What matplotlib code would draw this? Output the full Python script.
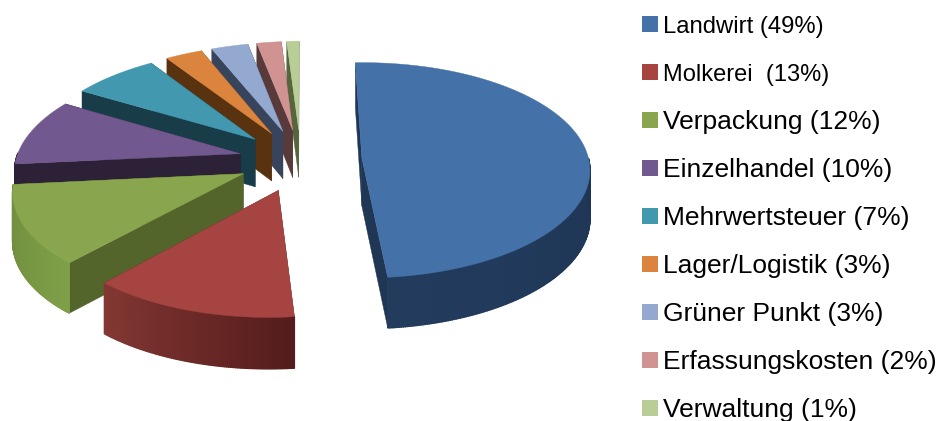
import numpy as np
from matplotlib import pyplot as plt
from matplotlib.colors import to_rgb

labels = ['Landwirt (49%)', 'Molkerei  (13%)', 'Verpackung (12%)', 'Einzelhandel (10%)',
          'Mehrwertsteuer (7%)', 'Lager/Logistik (3%)', 'Grüner Punkt (3%)',
          'Erfassungskosten (2%)', 'Verwaltung (1%)']
shares = [49, 13, 12, 10, 7, 3, 3, 2, 1]
colors = ['#4571a9', '#a54441', '#89a54d', '#71588f', '#4198af', '#db843d', '#93a9cf', '#d19392', '#b9cd96']
cut_colors = ['#1f3654', '#5a1f1e', '#53652b', '#2c2137', '#183c48', '#59330f', '#37445c', '#583a3a', '#55663c']
side_start = ['#233c5e', '#843833', '#6d8a3c', '#2c2137', '#183c48', '#59330f', '#37445c', '#583a3a', '#55663c']
side_end = ['#1a2e4a', '#541c1c', '#7f9f48', '#2c2137', '#183c48', '#59330f', '#37445c', '#583a3a', '#55663c']
text_sizes = [17.2, 17.0, 19, 19, 19, 19, 19, 19, 19]
explodes = [61, 66, 63, 63, 66, 66, 66, 66, 66]
radii = [227, 224, 224, 224, 224, 224, 224, 224, 224]

cx, cy = 301, 160
squash = 0.47
persp = 0.0005
shear = 0.03
start_angle = 92


def project(x, y, z=0):
    w = 1 + persp * y
    depth = z * (48 - 0.012 * y)
    return cx + x / w + shear * y, cy - squash * y / w + depth


def mix(a, b, t):
    a, b = np.array(to_rgb(a)), np.array(to_rgb(b))
    return tuple(a + (b - a) * t)


def draw_slice(ax, i, a0, a1):
    mid = np.radians((a0 + a1) / 2)
    ax0, ay0 = explodes[i] * np.cos(mid), explodes[i] * np.sin(mid)
    t = np.radians(np.linspace(a1, a0, max(int(a0 - a1) * 2, 6)))
    xs = ax0 + radii[i] * np.cos(t)
    ys = ay0 + radii[i] * np.sin(t)

    # cut faces, the one further back first
    cuts = [(xs[0], ys[0]), (xs[-1], ys[-1])]
    cuts.sort(key=lambda p: -p[1])
    for px, py in cuts:
        qx, qy = zip(project(ax0, ay0), project(px, py), project(px, py, 1), project(ax0, ay0, 1))
        ax.fill(qx, qy, color=cut_colors[i], lw=0.3)

    # outer rim in small strips, only the part facing the viewer
    for k in range(len(t) - 1):
        if np.sin(t[k]) > 0 and np.sin(t[k + 1]) > 0:
            continue
        c = mix(side_start[i], side_end[i], k / (len(t) - 1))
        p = [project(xs[k], ys[k]), project(xs[k + 1], ys[k + 1]),
             project(xs[k + 1], ys[k + 1], 1), project(xs[k], ys[k], 1)]
        qx, qy = zip(*p)
        ax.fill(qx, qy, color=c, lw=1.0)

    # top face
    tx, ty = project(np.r_[ax0, xs], np.r_[ay0, ys])
    ax.fill(tx, ty, color=colors[i], lw=0.3)


fig = plt.figure(figsize=(9.4, 4.21), dpi=100)
ax = fig.add_axes([0, 0, 1, 1])
ax.set_xlim(0, 940)
ax.set_ylim(421, 0)
ax.axis('off')

angles = start_angle - np.cumsum([0] + shares) * 3.6
for i in range(len(shares) - 1, 0, -1):
    draw_slice(ax, i, angles[i], angles[i + 1])
draw_slice(ax, 0, angles[0], angles[1])

for i, lab in enumerate(labels):
    y = 24 + 48 * i
    ax.scatter([649.5], [y], s=117, marker='s', color=colors[i], linewidths=0)
    ax.text(663, y, lab, family='Liberation Sans', fontsize=text_sizes[i], color='black', va='center_baseline', clip_on=True)

fig.savefig('out.png', dpi=100)
